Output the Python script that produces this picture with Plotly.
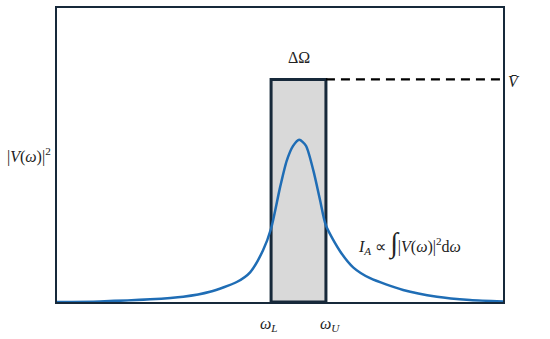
import plotly.graph_objects as go

# Spectrum |V(omega)|^2 (arbitrary units)
omega = [0.0, 0.96, 2.09, 2.83, 3.43, 4.03, 4.33, 4.62, 4.80, 5.00, 5.15, 5.29,
         5.43, 5.58, 5.75, 5.90, 6.03, 6.35, 6.64, 7.02, 7.76, 8.52, 9.26, 10.0]
power = [0.0, 0.002, 0.009, 0.018, 0.035, 0.068, 0.101, 0.176, 0.250, 0.389, 0.480, 0.530,
         0.552, 0.532, 0.446, 0.345, 0.260, 0.172, 0.118, 0.081, 0.041, 0.018, 0.007, 0.002]

# Band limits and mean level
omega_L = 4.80
omega_U = 6.03
V_bar = 0.757
x_max = 10.0

FONT = "Liberation Serif"
DARK = "#17293a"
BLUE = "#1f6db5"

fig = go.Figure()

fig.add_shape(type="rect", x0=omega_L, x1=omega_U, y0=0, y1=V_bar,
              xref="x", yref="y", fillcolor="#d9d9d9",
              line=dict(color=DARK, width=3), layer="below")

fig.add_trace(go.Scatter(x=[omega_U, x_max - 0.05], y=[V_bar, V_bar], mode="lines",
                         line=dict(color="black", width=2.2, dash="9px,6px"),
                         hoverinfo="skip", showlegend=False))

fig.add_trace(go.Scatter(x=omega, y=power, mode="lines",
                         line=dict(color=BLUE, width=2.5, shape="spline", smoothing=0.7),
                         showlegend=False))

ann = dict(showarrow=False, xanchor="center", yanchor="middle",
           font=dict(family=FONT, size=16, color="#222"))
# x axis spans [0, x_max] over the full paper width, y spans [0, 1]
fig.add_annotation(x=(omega_L + omega_U) / 2 / x_max, y=V_bar + 0.074, xref="paper", yref="paper",
                   text="ΔΩ", **ann)
fig.add_annotation(x=1.024, y=V_bar - 0.008, xref="paper", yref="paper",
                   text="<i>V̄</i>", **ann)
fig.add_annotation(x=-0.063, y=0.497, xref="paper", yref="paper",
                   text="|<i>V</i>(<i>ω</i>)|<sup>2</sup>", **ann)
fig.add_annotation(x=(omega_L - 0.05) / x_max, y=-0.078, xref="paper", yref="paper",
                   text="<i>ω</i><sub><i>L</i></sub>", **ann)
fig.add_annotation(x=(omega_U + 0.1) / x_max, y=-0.078, xref="paper", yref="paper",
                   text="<i>ω</i><sub><i>U</i></sub>", **ann)
fig.add_annotation(x=0.67, y=0.2, xref="paper", yref="paper",
                   text="<i>I</i><sub><i>A</i></sub> ∝ <span style='font-size:28px'>∫</span>|<i>V</i>(<i>ω</i>)|<sup>2</sup>d<i>ω</i>",
                   **{**ann, "xanchor": "left"})

fig.update_xaxes(range=[0, x_max], showgrid=False, zeroline=False, showticklabels=False,
                 ticks="", showline=True, mirror=True, linecolor=DARK, linewidth=2)
fig.update_yaxes(range=[0, 1], showgrid=False, zeroline=False, showticklabels=False,
                 ticks="", showline=True, mirror=True, linecolor=DARK, linewidth=2)

fig.update_layout(width=550, height=339, margin=dict(l=57, r=47, t=6, b=37),
                  paper_bgcolor="white", plot_bgcolor="white")

fig.write_html("out.html", config={"displayModeBar": False})

# remove the browser's default page margin so the figure sits at the window origin
with open("out.html", "r", encoding="utf-8") as f:
    html = f.read()
html = html.replace("<body>", '<body style="margin:0;overflow:hidden">', 1)
with open("out.html", "w", encoding="utf-8") as f:
    f.write(html)
